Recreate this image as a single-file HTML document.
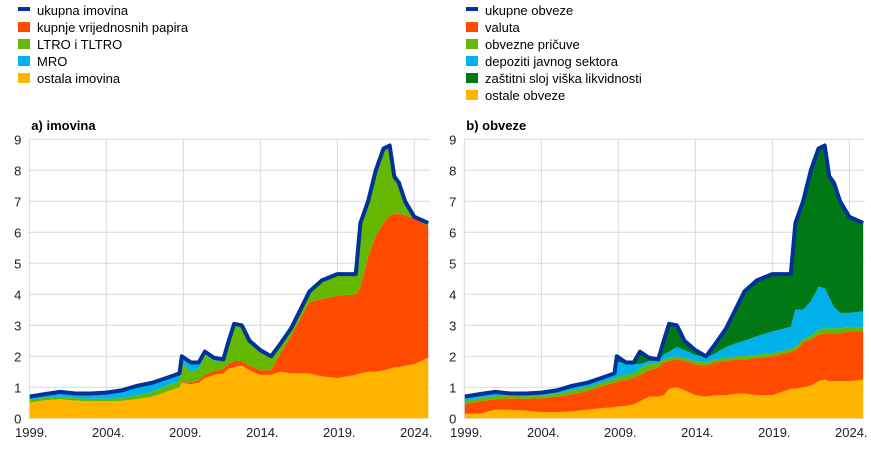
<!DOCTYPE html>
<html><head><meta charset="utf-8"><style>
body{margin:0;background:#fff;font-family:"Liberation Sans",Arial,sans-serif;}
svg text{font-family:"Liberation Sans",Arial,sans-serif;}
</style></head><body>
<svg id="c" width="871" height="444" viewBox="0 0 871 444"></svg>
<script>
const years=[1999,2000,2001,2002,2003,2004,2005,2006,2007,2007.9,2008.75,2008.9,2009.5,2010,2010.4,2011,2011.6,2011.95,2012.3,2012.8,2013.3,2014,2014.7,2015.3,2016,2016.8,2017.2,2018,2019,2020.2,2020.5,2021,2021.5,2022,2022.4,2022.7,2023,2023.4,2024,2024.9];
const xTicks=[1999,2004,2009,2014,2019,2024];
const yTicks=[0,1,2,3,4,5,6,7,8,9];
// Left panel: assets
const aOther=[0.5,0.58,0.62,0.57,0.55,0.55,0.56,0.62,0.7,0.85,1.0,1.15,1.1,1.15,1.3,1.4,1.45,1.6,1.65,1.7,1.55,1.4,1.4,1.5,1.45,1.45,1.45,1.35,1.3,1.4,1.45,1.5,1.5,1.55,1.6,1.65,1.65,1.7,1.75,1.95];
const aSecurities=[0,0,0,0,0,0,0,0,0,0,0,0.02,0.05,0.08,0.1,0.12,0.15,0.15,0.2,0.15,0.15,0.15,0.15,0.6,1.2,1.95,2.3,2.5,2.65,2.6,2.8,3.7,4.4,4.75,4.95,4.95,4.95,4.85,4.7,4.25];
const aLTRO=[0.08,0.08,0.08,0.08,0.08,0.08,0.09,0.13,0.15,0.2,0.2,0.63,0.35,0.37,0.65,0.33,0.25,0.7,1.15,1.1,0.75,0.6,0.4,0.27,0.23,0.3,0.35,0.6,0.7,0.65,2.05,1.8,2.1,2.4,2.25,1.2,1.0,0.45,0.05,0.1];
const aMRO=[0.12,0.12,0.15,0.15,0.17,0.2,0.25,0.3,0.3,0.25,0.25,0.2,0.3,0.2,0.1,0.1,0.05,0.05,0.05,0.05,0.05,0.05,0.05,0.03,0.02,0,0,0,0,0,0,0,0,0,0,0,0,0,0,0];
// Right panel: liabilities
const lOther=[0.15,0.15,0.28,0.27,0.25,0.2,0.2,0.23,0.28,0.33,0.35,0.38,0.4,0.45,0.55,0.7,0.7,0.75,0.95,1.0,0.9,0.75,0.7,0.75,0.75,0.8,0.8,0.75,0.75,0.95,0.95,1.0,1.05,1.2,1.25,1.2,1.2,1.2,1.2,1.25];
const lCurrency=[0.3,0.4,0.34,0.38,0.38,0.45,0.5,0.55,0.6,0.7,0.8,0.8,0.85,0.85,0.85,0.85,0.95,1.05,0.9,0.9,0.95,1.0,1.0,1.05,1.1,1.1,1.1,1.2,1.25,1.2,1.25,1.45,1.5,1.5,1.5,1.55,1.55,1.55,1.6,1.55];
const lReserves=[0.1,0.1,0.1,0.08,0.08,0.08,0.1,0.12,0.12,0.12,0.12,0.15,0.15,0.15,0.2,0.2,0.15,0.1,0.1,0.1,0.1,0.1,0.1,0.1,0.1,0.1,0.1,0.1,0.1,0.1,0.1,0.1,0.12,0.15,0.15,0.15,0.15,0.15,0.15,0.15];
const lGovDeposits=[0.15,0.13,0.13,0.07,0.09,0.1,0.1,0.15,0.15,0.15,0.18,0.5,0.35,0.3,0.15,0.1,0.05,0.15,0.2,0.3,0.25,0.2,0.15,0.2,0.35,0.45,0.5,0.6,0.7,0.7,1.2,0.95,1.1,1.4,1.3,1.0,0.7,0.5,0.45,0.5];
const lExcess=[0,0,0,0,0,0,0,0,0,0,0,0.17,0.05,0.05,0.4,0.1,0.05,0.45,0.9,0.7,0.3,0.15,0.05,0.3,0.6,1.25,1.6,1.8,1.85,1.7,2.8,3.5,4.23,4.45,4.6,3.9,4.0,3.6,3.1,2.85];

const NS='http://www.w3.org/2000/svg';
const svg=document.getElementById('c');
function mk(tag,attrs,parent){const e=document.createElementNS(NS,tag);for(const k in attrs)e.setAttribute(k,attrs[k]);(parent||svg).appendChild(e);return e;}

function panel(p){
  const g=mk('g',{});
  
  
  const X=v=>p.x0+(v-1999)*p.pxYear;
  const Y=v=>418.3-v*31.0;
  yTicks.forEach(t=>{
    const l=mk('line',{x1:p.x0,x2:p.x1,y1:Y(t),y2:Y(t),stroke:'#d9d9d9','stroke-width':1},g);
    
    
    const tx=mk('text',{x:p.x0-8,y:Y(t)+5,'text-anchor':'end','font-size':13,fill:'#222'},g);
    tx.textContent=t;
    
    
  });
  xTicks.forEach(t=>{
    if(t>1999){const l=mk('line',{x1:X(t),x2:X(t),y1:Y(0),y2:Y(9),stroke:'#d9d9d9','stroke-width':1},g);
    
    }
    const tx=mk('text',{x:X(t)+2,y:437,'text-anchor':'middle','font-size':13,fill:'#222'},g);
    tx.textContent=t+'.';
    
    
  });
  let base=years.map(()=>0);
  p.series.forEach(s=>{
    const top=base.map((b,i)=>b+s.data[i]);
    let d='M'+years.map((y,i)=>X(y).toFixed(1)+','+Y(top[i]).toFixed(1)).join('L');
    for(let i=years.length-1;i>=0;i--)d+='L'+X(years[i]).toFixed(1)+','+Y(base[i]).toFixed(1);
    const a=mk('path',{d:d+'Z',fill:s.color},g);
    
    
    base=top;
  });
  const ln=mk('path',{d:'M'+years.map((y,i)=>X(y).toFixed(1)+','+Y(base[i]).toFixed(1)).join('L'),fill:'none',stroke:'#003299','stroke-width':4,'stroke-linejoin':'round'},g);
  
  
  const ax=mk('line',{x1:p.x0,x2:p.x0,y1:Y(0),y2:Y(9),stroke:'#d9d9d9'},g);
  
  
  const ti=mk('text',{x:p.x0+2,y:130,'font-size':13,'font-weight':'bold',fill:'#000'},g);
  ti.textContent=p.title;
  
  
  // legend
  p.legend.forEach((it,i)=>{
    const y=10+i*17;
    const lg=mk('g',{},g);
    
    
    if(it.line) mk('rect',{x:p.lx,y:y-3,width:12,height:4,fill:it.color},lg);
    else mk('rect',{x:p.lx,y:y-5,width:12,height:10,fill:it.color},lg);
    const t=mk('text',{x:p.lx+19,y:y+5,'font-size':13,fill:'#000'},lg);
    t.textContent=it.label;
  });
}
panel({name:'assets-panel',title:'a) imovina',x0:29.3,x1:430,pxYear:15.4,lx:18,
  series:[{name:'area-ostala-imovina',data:aOther,color:'#ffb400'},{name:'area-vrijednosni-papiri',data:aSecurities,color:'#ff4b00'},{name:'area-ltro',data:aLTRO,color:'#65b800'},{name:'area-mro',data:aMRO,color:'#00b1ea'}],
  legend:[{label:'ukupna imovina',color:'#003299',line:1},{label:'kupnje vrijednosnih papira',color:'#ff4b00'},{label:'LTRO i TLTRO',color:'#65b800'},{label:'MRO',color:'#00b1ea'},{label:'ostala imovina',color:'#ffb400'}]});
panel({name:'liabilities-panel',title:'b) obveze',x0:464.3,x1:865,pxYear:15.4,lx:466,
  series:[{name:'area-ostale-obveze',data:lOther,color:'#ffb400'},{name:'area-valuta',data:lCurrency,color:'#ff4b00'},{name:'area-obvezne-pricuve',data:lReserves,color:'#65b800'},{name:'area-depoziti',data:lGovDeposits,color:'#00b1ea'},{name:'area-zastitni-sloj',data:lExcess,color:'#007816'}],
  legend:[{label:'ukupne obveze',color:'#003299',line:1},{label:'valuta',color:'#ff4b00'},{label:'obvezne pričuve',color:'#65b800'},{label:'depoziti javnog sektora',color:'#00b1ea'},{label:'zaštitni sloj viška likvidnosti',color:'#007816'},{label:'ostale obveze',color:'#ffb400'}]});
</script>
</body></html>
